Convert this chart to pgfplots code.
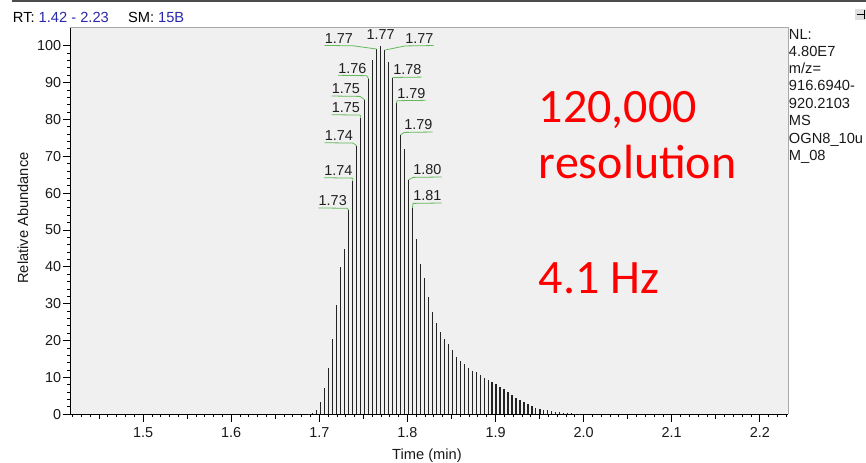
\documentclass[border=0pt]{standalone}
\usepackage{pgfplots}
\pgfplotsset{compat=1.18}
\usepackage{fontspec}
\setmainfont{Liberation Sans}
\newfontfamily\calib{Carlito}
\definecolor{bg}{RGB}{240,240,240}
\definecolor{rtblue}{RGB}{40,40,170}
\definecolor{lgreen}{RGB}{100,185,90}
\definecolor{stick}{RGB}{35,35,35}
\definecolor{frame}{RGB}{170,170,170}
\tikzset{lab/.style={inner sep=0pt,font=\fontsize{10.8}{12}\selectfont,text=black!88},
         labline/.style={lgreen,line width=0.6pt}}
\newcommand{\labL}[5]{%
  \node[lab,anchor=base east] (pk) at ([xshift=#4*0.75pt,yshift=#5*0.75pt]axis cs:#1,#2) {#3};
  \draw[labline] ([yshift=-1.6pt]pk.base west) -- ([yshift=-1.9pt]pk.base east) -- (axis cs:#1,#2);
}
\newcommand{\labR}[5]{%
  \node[lab,anchor=base west] (pk) at ([xshift=#4*0.75pt,yshift=#5*0.75pt]axis cs:#1,#2) {#3};
  \draw[labline] (axis cs:#1,#2) -- ([yshift=-1.9pt]pk.base west) -- ([yshift=-1.6pt]pk.base east);
}
\begin{document}
\begin{tikzpicture}
\begin{axis}[
  at={(0,0)}, anchor=south west,
  scale only axis, width=538.5pt, height=290.25pt,
  xmin=1.41703, xmax=2.2320, ymin=0, ymax=105,
  axis lines*=left, axis line style={-,black,line width=0.7pt},
  axis background/.style={fill=bg},
  tick align=outside,
  xtick={1.5,1.6,1.7,1.8,1.9,2.0,2.1,2.2},
  xticklabels={1.5,1.6,1.7,1.8,1.9,2.0,2.1,2.2},
  minor xtick={1.42,1.43,...,2.23},
  extra x ticks={1.45,1.55,1.65,1.75,1.85,1.95,2.05,2.15},
  extra x tick labels={},
  extra x tick style={major tick length=3.3pt},
  ytick={0,10,20,30,40,50,60,70,80,90,100},
  yticklabels={0,10,20,30,40,50,60,70,80,90,100},
  minor ytick={2,4,...,98},
  major tick length=5.5pt,
  minor tick length=2.2pt,
  tick style={black,line width=0.6pt},
  every tick label/.append style={font=\fontsize{10.8}{12}\selectfont,inner sep=1pt,text=black!90},
  xticklabel style={yshift=-3pt},
  clip=false,
]
\addplot[ycomb, no marks, stick, line width=0.9pt] coordinates {
(1.6882,0.1) (1.6927,0.3) (1.6972,1.2) (1.7018,3.4) (1.7063,7.1) (1.7108,12.5)
(1.7153,20.3) (1.7198,29.6) (1.7244,39.9) (1.7289,44.8) (1.7334,55.4) (1.7379,63.4)
(1.7424,72.9) (1.7470,80.5) (1.7515,85.3) (1.7560,91.0) (1.7605,96.1) (1.7650,99.1)
(1.7696,100) (1.7741,98.8) (1.7786,95.7) (1.7831,91.3) (1.7876,84.4) (1.7922,75.8)
(1.7967,72.0) (1.8012,63.6) (1.8057,56.0) (1.8102,47.5) (1.8148,40.7) (1.8193,36.9)
(1.8238,31.7) (1.8283,27.7) (1.8328,24.7) (1.8374,22.4) (1.8419,20.3) (1.8464,19.1)
(1.8509,17.4) (1.8554,15.6) (1.8600,14.4) (1.8645,13.7) (1.8690,12.6) (1.8735,11.8)
(1.8780,11.4) (1.8826,10.7) (1.8871,9.9) (1.8916,9.3) (1.8961,8.8) (1.9006,8.2)
(1.9052,7.4) (1.9097,6.8) (1.9142,6.0) (1.9187,5.1) (1.9232,4.4) (1.9278,3.9)
(1.9323,3.3) (1.9368,2.7) (1.9413,2.3) (1.9458,1.8) (1.9504,1.4) (1.9549,1.2)
(1.9594,1.2) (1.9639,0.9) (1.9684,0.5) (1.9730,0.5) (1.9775,0.3) (1.9820,0.3)
(1.9865,0.3) (1.9910,0.1) (1.9956,0.1)
};
\draw[frame,line width=0.7pt] (rel axis cs:0,1) -- (rel axis cs:1,1) -- (rel axis cs:1,0);
% peak labels
\labL{1.7650}{99.1}{1.77}{-23.3}{5.7}
\labL{1.7560}{91.0}{1.76}{-2}{5.7}
\labL{1.7515}{85.3}{1.75}{-4.6}{6}
\labL{1.7470}{80.5}{1.75}{-0.6}{5}
\labL{1.7424}{72.9}{1.74}{-3.6}{5}
\labL{1.7379}{63.4}{1.74}{0}{5}
\labL{1.7334}{55.4}{1.73}{-1.7}{4.3}
\labR{1.7741}{98.8}{1.77}{20.5}{6.7}
\labR{1.7831}{91.3}{1.78}{0.5}{2.8}
\labR{1.7876}{84.4}{1.79}{0.5}{5}
\labR{1.7922}{75.8}{1.79}{3.6}{5}
\labR{1.8012}{63.6}{1.80}{4.6}{5}
\labR{1.8057}{56.0}{1.81}{0.6}{7}
\node[lab,anchor=base] at ([yshift=5.7*0.75pt]axis cs:1.7696,100) {1.77};
\end{axis}
% header and frame
\draw[black!70,line width=1.3pt] (-43.8pt,310.1pt) -- (597pt,310.1pt);
\fill[black!12] (588.8pt,295.7pt) rectangle (597pt,304pt);
\draw[black,line width=0.6pt,-|] (590pt,299.9pt) -- (596pt,299.9pt);
\node[anchor=base west,inner sep=0pt,font=\fontsize{11}{13}\selectfont] at (-43pt,294pt)
  {RT: \textcolor{rtblue}{1.42 - 2.23}};
\node[anchor=base west,inner sep=0pt,font=\fontsize{11}{13}\selectfont] at (43.3pt,294pt)
  {SM: \textcolor{rtblue}{15B}};
% right info text
\begin{scope}[every node/.style={anchor=base west,inner sep=0pt,font=\fontsize{11}{13}\selectfont,text=black!90}]
\node at (539pt,281.25pt) {NL:};
\node at (539pt,268.2pt) {4.80E7};
\node at (539pt,255.2pt) {m/z=};
\node at (539pt,242.7pt) {916.6940-};
\node at (539pt,229.5pt) {920.2103};
\node at (539pt,216.2pt) {MS};
\node at (539pt,203.25pt) {OGN8\_10u};
\node at (539pt,190.2pt) {M\_08};
\end{scope}
% red annotation
\begin{scope}[every node/.style={anchor=base west,inner sep=0pt,font=\calib\fontsize{36}{40}\selectfont,text=red}]
\node at (351.5pt,219pt) {120,000};
\node at (351.5pt,176.5pt) {resolution};
\node at (351.5pt,90.75pt) {4.1 Hz};
\end{scope}
% axis labels
\node[anchor=base,inner sep=0pt,font=\fontsize{11}{13}\selectfont,text=black!90] at (267.75pt,-34.2pt) {Time (min)};
\node[rotate=90,anchor=center,inner sep=0pt,font=\fontsize{11}{13}\selectfont,text=black!90] at (-35.25pt,147.2pt) {Relative Abundance};
\pgfresetboundingbox
\path (-52.5pt,-36.5pt) rectangle (597pt,310.7pt);
\end{tikzpicture}
\end{document}
